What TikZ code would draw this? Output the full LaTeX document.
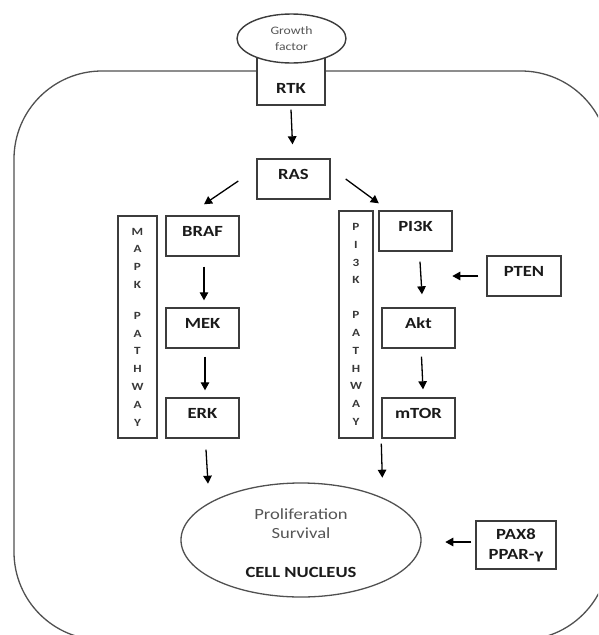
\documentclass[tikz,border=0pt]{standalone}
\usepackage{fontspec}
\setmainfont{Carlito}[FakeStretch=1.2]
\usetikzlibrary{arrows.meta,shapes.geometric}
\definecolor{boxline}{HTML}{3C3C3C}
\definecolor{cellline}{HTML}{505050}
\definecolor{lbltext}{HTML}{1A1A1A}
\definecolor{graytext}{HTML}{555555}
\definecolor{pathtext}{HTML}{383838}
\tikzset{
  box/.style={draw=boxline, line width=1.4pt, fill=white, inner sep=0pt,
    minimum width=73pt, minimum height=40pt, text height=10pt, text depth=10pt,
    font=\fontsize{15.5}{18}\selectfont\bfseries, text=lbltext},
  pathbox/.style={draw=boxline, line width=1.4pt, inner sep=0pt, align=center,
    font=\fontsize{11}{17.8}\selectfont\bfseries, text=pathtext},
  arr/.style={line width=1.3pt, -{Triangle[length=8pt,width=8.5pt]}},
  cell/.style={draw=cellline, line width=1.3pt, rounded corners=88pt},
  soft/.style={font=\fontsize{15.5}{18}\selectfont, text=graytext, anchor=base, inner sep=0pt},
  hard/.style={font=\fontsize{15.5}{18}\selectfont\bfseries, text=lbltext, anchor=base, inner sep=0pt}
}
\begin{document}
\begin{tikzpicture}[x=1pt,y=-1pt]
\useasboundingbox (0,0) rectangle (598,635);
\clip (0,0) rectangle (598,635);
% cell membrane
\draw[cell] (14,640) -- (14,71) -- (609,71) -- (609,640) -- cycle;
% receptor and growth factor
\node[box, minimum width=68pt, minimum height=50pt, text height=26pt, text depth=0pt] (rtk) at (291,80) {RTK};
\node[draw=boxline, line width=1.4pt, fill=white, ellipse, minimum width=109pt, minimum height=49pt, inner sep=0pt,
  align=center, font=\fontsize{11.4}{16}\selectfont, text=graytext] (gf) at (291.5,38.5) {Growth\\factor};
% boxes
\node[box] (ras) at (293.5,179) {RAS};
\node[box] (braf) at (202.5,236) {BRAF};
\node[box] (mek) at (202.5,328) {MEK};
\node[box] (erk) at (202.5,418) {ERK};
\node[box] (pi3k) at (415.5,231) {PI3K};
\node[box] (akt) at (418.5,328) {Akt};
\node[box] (mtor) at (418.5,418) {mTOR};
\node[box, minimum width=74pt] (pten) at (524,276) {PTEN};
\node[box, minimum width=80pt, minimum height=48pt, align=center, text height=, text depth=,
  font=\fontsize{15.5}{20}\selectfont\bfseries] (pax8) at (516,545) {PAX8\\PPAR-γ};
% pathway labels
\node[pathbox, minimum width=39pt, minimum height=222pt] (mapk) at (137.5,327)
  {M\\A\\P\\K\\[13pt]P\\A\\T\\H\\W\\A\\Y};
\node[pathbox, minimum width=34pt, minimum height=227pt] (pipath) at (356,324.5)
  {P\\I\\3\\K\\[17pt]P\\A\\T\\H\\W\\A\\Y};
% nucleus
\node[draw=cellline, line width=1.3pt, ellipse, minimum width=240pt, minimum height=114pt, inner sep=0pt] (nuc) at (301,540) {};
\node[soft] (prolif) at (301,519.5) {Proliferation};
\node[soft] (surv) at (301,538.5) {Survival};
\node[hard] (cellnuc) at (301,577) {CELL NUCLEUS};
% arrows
\draw[arr] ([yshift=-4pt]rtk.south) -- ([xshift=-1pt,yshift=14pt]ras.north);
\draw[arr] ([xshift=-18pt,yshift=-2pt]ras.west) -- ([xshift=1.5pt,yshift=11pt]braf.north);
\draw[arr] ([xshift=15pt]ras.east) -- ([xshift=0.5pt,yshift=7pt]pi3k.north west);
\draw[arr] ([xshift=1.5pt,yshift=-10pt]braf.south) -- ([xshift=1.5pt,yshift=7pt]mek.north);
\draw[arr] ([xshift=2.5pt,yshift=-8pt]mek.south) -- ([xshift=2.5pt,yshift=7pt]erk.north);
\draw[arr] ([xshift=3.5pt,yshift=-11pt]erk.south) -- ([xshift=5.5pt,yshift=-45pt]erk.south);
\draw[arr] ([xshift=4.5pt,yshift=-10pt]pi3k.south) -- ([xshift=3.5pt,yshift=13pt]akt.north);
\draw[arr] ([xshift=3pt,yshift=-8pt]akt.south) -- ([xshift=4.5pt,yshift=8pt]mtor.north);
\draw[arr] ([yshift=-5pt]mtor.south west) -- ([xshift=1pt,yshift=-39pt]mtor.south west);
\draw[arr] ([xshift=-8pt]pten.west) -- ([xshift=-34pt]pten.west);
\draw[arr] ([xshift=-4pt,yshift=3pt]pax8.west) -- ([xshift=-30pt,yshift=3pt]pax8.west);
\end{tikzpicture}
\end{document}
